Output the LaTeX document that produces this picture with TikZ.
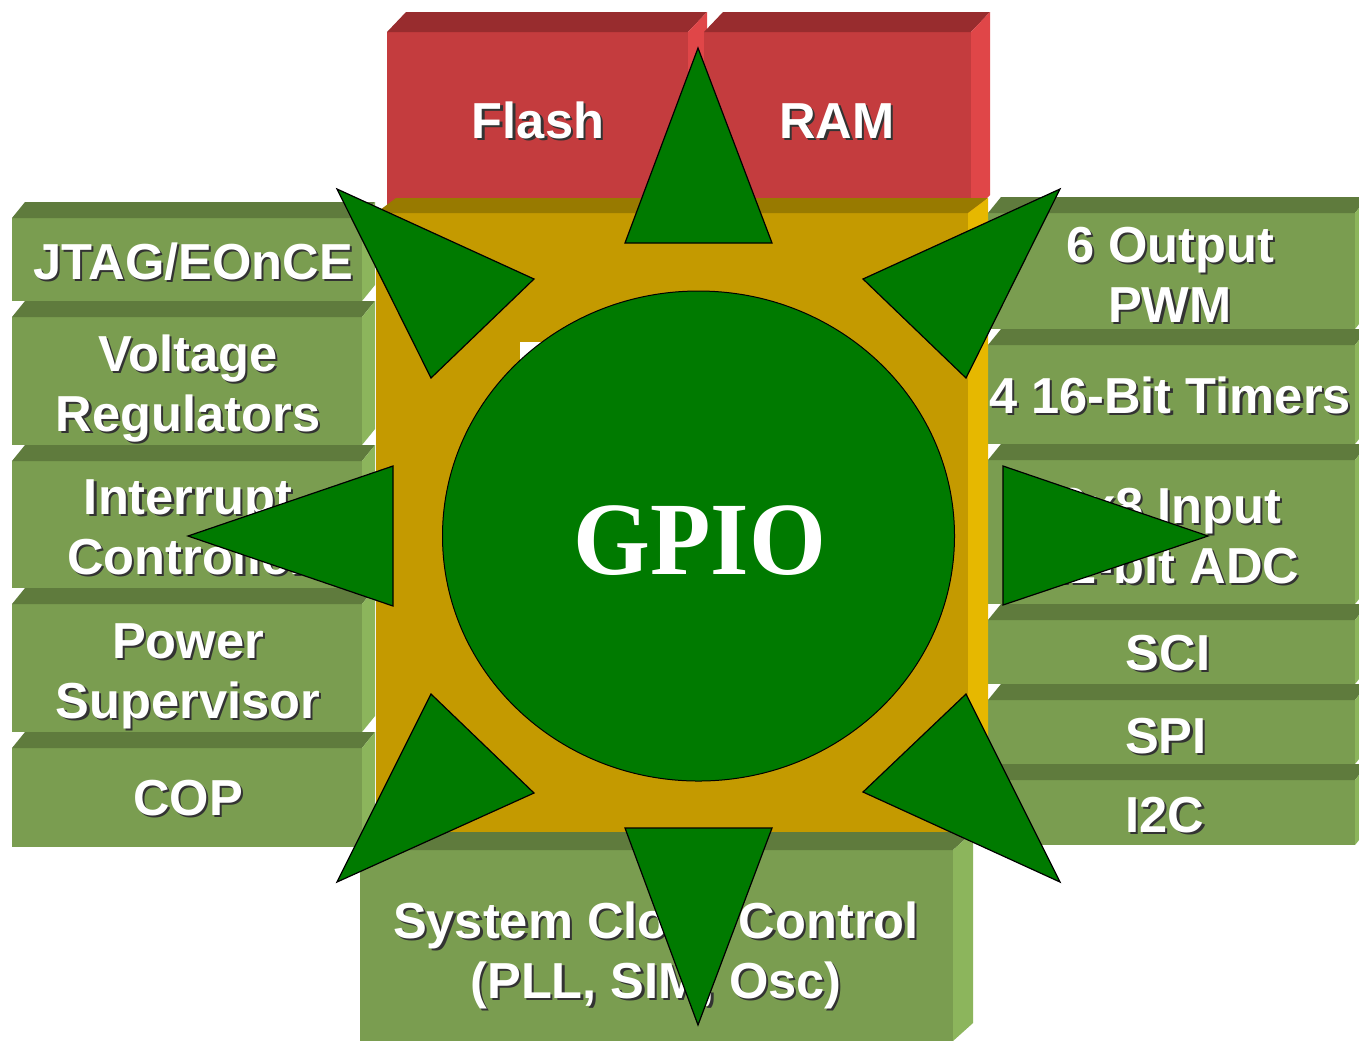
\documentclass[tikz,border=0pt]{standalone}
\usepackage{fontspec}
\newfontfamily\lblfont{Liberation Sans}
\newfontfamily\gpiofont{Liberation Serif}

% face colours of the 3D blocks
\definecolor{grnFront}{RGB}{122,157,80}
\definecolor{grnTop}{RGB}{95,123,61}
\definecolor{grnSide}{RGB}{140,181,92}
\definecolor{redFront}{RGB}{196,60,62}
\definecolor{redTop}{RGB}{152,44,46}
\definecolor{redSide}{RGB}{224,70,72}
\definecolor{gldFront}{RGB}{196,154,0}
\definecolor{gldTop}{RGB}{152,122,0}
\definecolor{gldSide}{RGB}{230,184,0}
\definecolor{hubGreen}{RGB}{0,122,0}

% 3D block: front face (x1,y1)-(x2,y2), depth (dx,dy), colours front/top/side
\newcommand\blk[9]{%
  \fill[#7] (#1,#2) rectangle (#3,#4);
  \fill[#8] (#1,#2) -- ({#1+#5},{#2-#6}) -- ({#3+#5},{#2-#6}) -- (#3,#2) -- cycle;
  \fill[#9] (#3,#2) -- ({#3+#5},{#2-#6}) -- ({#3+#5},{#4-#6}) -- (#3,#4) -- cycle;
}
\newcommand\gblk[4]{\blk{#1}{#2}{#3}{#4}{13}{16}{grnFront}{grnTop}{grnSide}}

% white label with a dark drop shadow, placed on the baseline of its last line
\newcommand\lbl[4]{%
  \node[lblshadow] (#1-sh) at ([xshift=1.1pt,yshift=-1.1pt]#2,#3) {#4};
  \node[lbltext] (#1) at (#2,#3) {#4};
}

\begin{document}
\begin{tikzpicture}[x=0.5pt,y=-0.5pt,
  lbltext/.style={font=\lblfont\bfseries\fontsize{25.3}{30}\selectfont,
    text=white, align=center, inner sep=0pt, anchor=base},
  lblshadow/.style={lbltext, text=black!80},
  hub/.style={fill=hubGreen, draw=black, line width=0.6pt, line join=miter}]
\useasboundingbox (0,0) rectangle (1359,1041);
\clip (0,0) rectangle (1359,1041);
\fill[white] (0,0) rectangle (1359,1041);

% memories on top
\blk{387}{32}{688}{215}{19}{20}{redFront}{redTop}{redSide}
\blk{704}{32}{971}{215}{19}{20}{redFront}{redTop}{redSide}

% left column
\gblk{12}{218}{362}{301}
\gblk{12}{317}{362}{445}
\gblk{12}{461}{362}{588}
\gblk{12}{604}{362}{732}
\gblk{12}{748}{362}{847}

% right column
\gblk{988}{213}{1355}{329}
\gblk{988}{345}{1355}{444}
\gblk{988}{460}{1355}{604}
\gblk{988}{620}{1355}{684}
\gblk{988}{700}{1355}{764}
\gblk{988}{780}{1355}{845}

% clock block at the bottom
\blk{360}{850}{953}{1041}{20}{18}{grnFront}{grnTop}{grnSide}

% core block
\blk{376}{213}{968}{832}{20}{15}{gldFront}{gldTop}{gldSide}
\fill[white] (520,342) rectangle (548,368);

% labels
\lbl{flash}{538}{138}{Flash}
\lbl{ram}{837}{138}{RAM}
\lbl{jtag}{193}{279}{JTAG/EOnCE}
\lbl{vreg}{188}{431}{Voltage\\Regulators}
\lbl{intc}{188}{574}{Interrupt\\Controller}
\lbl{psup}{188}{718}{Power\\Supervisor}
\lbl{cop}{188}{815}{COP}
\lbl{pwm}{1170}{322}{6 Output\\PWM}
\lbl{tmr}{1170}{413}{4 16-Bit Timers}
\lbl{adc}{1170}{583}{2x8 Input\\12-bit ADC}
\lbl{sci}{1168}{670}{SCI}
\lbl{spi}{1166}{753}{SPI}
\lbl{iic}{1165}{832}{I2C}
\lbl{clk}{656}{998}{System Clock Control\\(PLL, SIM, Osc)}

% hub
\draw[fill=hubGreen, draw=black, line width=0.5pt] (698.5,536) ellipse [x radius=256, y radius=245];
\node[text=white, font=\gpiofont\bfseries\fontsize{52}{52}\selectfont,
  inner sep=0pt, anchor=base] (gpio) at (700,574) {\scalebox{0.95}[1]{GPIO}};

% radiating arrowheads
\draw[hub] (698,48) -- (625,243) -- (772,243) -- cycle;
\draw[hub] (698,1025) -- (625,828) -- (772,828) -- cycle;
\draw[hub] (188,536) -- (393,466) -- (393,606) -- cycle;
\draw[hub] (1208,536) -- (1003,466) -- (1003,605) -- cycle;
\draw[hub] (337,189) -- (534,279) -- (431,378) -- cycle;
\draw[hub] (1060,189) -- (863,279) -- (966,378) -- cycle;
\draw[hub] (337,882) -- (431,694) -- (534,793) -- cycle;
\draw[hub] (1060,882) -- (966,694) -- (863,792) -- cycle;
\end{tikzpicture}
\end{document}
